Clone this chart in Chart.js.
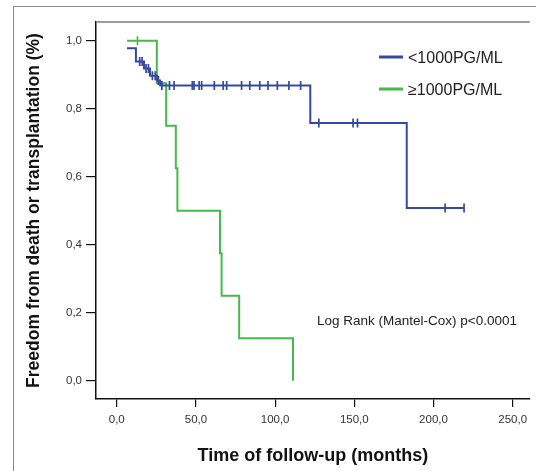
<!DOCTYPE html>
<html>
<head>
<meta charset="utf-8">
<script src="https://cdn.jsdelivr.net/npm/chart.js@4.4.1/dist/chart.umd.min.js"></script>
<style>
  html, body { margin: 0; padding: 0; background: #fff; }
  #wrap { position: relative; width: 536px; height: 471px; overflow: hidden; }
  /* outer grey frame of the figure */
  #frame { position: absolute; left: 13px; top: 6px; right: -2px; bottom: -2px;
           border-left: 1.5px solid #8c8c8c; border-top: 1.5px solid #8c8c8c; }
  canvas { position: absolute; left: 0; top: 0; }
</style>
</head>
<body>
<div id="wrap"><div id="frame"></div><canvas id="chart" width="536" height="471"></canvas></div>
<script>
const fontFamily = '"Liberation Sans", Arial, sans-serif'

// Group names and colours
const groupLabels = ['<1000PG/ML', '\u22651000PG/ML']
const groupColors = ['#34499f', '#45b94a']

// <1000 pg/ml : Kaplan-Meier steps (months, survival)
const lowTimes = [6.5, 12.1, 17.2, 21.0, 25.5, 27.4, 122.2, 183.1, 219.3]
const lowSurv = [0.978, 0.939, 0.918, 0.897, 0.883, 0.868, 0.758, 0.508, 0.508]
// <1000 pg/ml : censored cases
const lowCensorTimes = [14.5, 16.0, 18.5, 20.0, 22.5, 24.3, 26.3,
    28.5, 33.3, 36.2, 47.7, 48.8, 52.0, 53.6, 61.6, 67.2, 69.4, 78.8, 84.0, 90.3, 95.5, 101.4, 108.7, 116.1,
    127.6, 149.2, 152.0, 207.3, 219.3]
const lowCensorSurv = [0.939, 0.939, 0.918, 0.918, 0.897, 0.897, 0.883,
    0.868, 0.868, 0.868, 0.868, 0.868, 0.868, 0.868, 0.868, 0.868, 0.868, 0.868, 0.868, 0.868, 0.868, 0.868, 0.868, 0.868,
    0.758, 0.758, 0.758, 0.508, 0.508]

// >=1000 pg/ml : Kaplan-Meier steps
const highTimes = [6.5, 25.3, 31.2, 37.3, 38.3, 65.2, 66.2, 77.3, 111.3]
const highSurv = [1.0, 0.875, 0.75, 0.625, 0.5, 0.375, 0.25, 0.125, 0.0]
// >=1000 pg/ml : censored cases
const highCensorTimes = [13.1]
const highCensorSurv = [1.0]

// Axis ticks
const xTicks = [0, 50, 100, 150, 200, 250]
const yTicks = [0, 0.2, 0.4, 0.6, 0.8, 1.0]

const statText = 'Log Rank (Mantel-Cox) p<0.0001'

const toPoints = (xs, ys) => xs.map((x, i) => ({ x: x, y: ys[i] }))
const commaLabel = v => Number(v).toFixed(1).replace('.', ',')

function curve(label, color, xs, ys) {
    return {
        label: label,
        data: toPoints(xs, ys),
        borderColor: color,
        borderWidth: 2,
        pointRadius: 0,
        stepped: true,
        fill: false
    }
}

function censorMarks(label, color, xs, ys) {
    return {
        label: label + ' censored',
        data: toPoints(xs, ys),
        showLine: false,
        pointStyle: 'line',
        pointRotation: 90,
        pointRadius: 4.5,
        pointBorderColor: color,
        pointBorderWidth: 1.7
    }
}

// Draws the plot's top frame line, the legend and the log-rank text
const decorations = {
    id: 'decorations',
    afterDraw(chart) {
        const { ctx, chartArea } = chart
        ctx.save()
        ctx.strokeStyle = '#7a7a7a'
        ctx.lineWidth = 1.5
        ctx.beginPath()
        ctx.moveTo(chartArea.left, chartArea.top)
        ctx.lineTo(chartArea.right, chartArea.top)
        ctx.stroke()

        // legend
        const rowsY = [57, 89]
        ctx.font = '16px ' + fontFamily
        ctx.textBaseline = 'middle'
        ctx.textAlign = 'left'
        groupLabels.forEach((label, i) => {
            ctx.strokeStyle = groupColors[i]
            ctx.lineWidth = 3
            ctx.beginPath()
            ctx.moveTo(379, rowsY[i])
            ctx.lineTo(403, rowsY[i])
            ctx.stroke()
            ctx.fillStyle = '#222'
            ctx.fillText(label, 408, rowsY[i] + 2)
        })

        ctx.font = '13.5px ' + fontFamily
        ctx.fillStyle = '#222'
        ctx.fillText(statText, 317, 321)
        ctx.restore()
    }
}

const data = {
    datasets: [
        curve(groupLabels[0], groupColors[0], lowTimes, lowSurv),
        censorMarks(groupLabels[0], groupColors[0], lowCensorTimes, lowCensorSurv),
        curve(groupLabels[1], groupColors[1], highTimes, highSurv),
        censorMarks(groupLabels[1], groupColors[1], highCensorTimes, highCensorSurv)
    ]
}

const config = {
    type: 'line',
    data,
    options: {
        responsive: false,
        animation: false,
        layout: { padding: { top: 22, right: 5, left: 0, bottom: 0 } },
        scales: {
            x: {
                type: 'linear',
                min: -13.1,
                max: 260.8,
                afterBuildTicks: scale => { scale.ticks = xTicks.map(v => ({ value: v })) },
                afterFit: scale => { scale.height = 72 },
                grid: { drawOnChartArea: false, drawTicks: true, tickLength: 8, color: '#111', lineWidth: 1.2 },
                border: { display: true, color: '#111', width: 1.5 },
                ticks: {
                    padding: 6, color: '#333', autoSkip: false, maxRotation: 0,
                    font: { family: fontFamily, size: 11.5 },
                    callback: v => commaLabel(v)
                },
                title: {
                    display: true,
                    text: 'Time of follow-up (months)',
                    color: '#111',
                    font: { family: fontFamily, size: 18, weight: 'bold' },
                    padding: { top: 0, bottom: 4 }
                }
            },
            y: {
                min: -0.0538,
                max: 1.055,
                afterBuildTicks: scale => { scale.ticks = yTicks.map(v => ({ value: v })) },
                afterFit: scale => { scale.width = 96 },
                grid: { drawOnChartArea: false, drawTicks: true, tickLength: 10, color: '#111', lineWidth: 1.2 },
                border: { display: true, color: '#111', width: 1.5 },
                ticks: {
                    padding: 4, color: '#333',
                    font: { family: fontFamily, size: 11.5 },
                    callback: v => commaLabel(v)
                },
                title: {
                    display: true,
                    text: 'Freedom from death or transplantation (%)',
                    color: '#111',
                    font: { family: fontFamily, size: 17.5, weight: 'bold' },
                    padding: { top: 24, bottom: 0 }
                }
            }
        },
        plugins: {
            legend: { display: false },
            tooltip: { enabled: false }
        }
    },
    plugins: [decorations]
}

var chart = new Chart(document.getElementById('chart'), config)
</script>
</body>
</html>
